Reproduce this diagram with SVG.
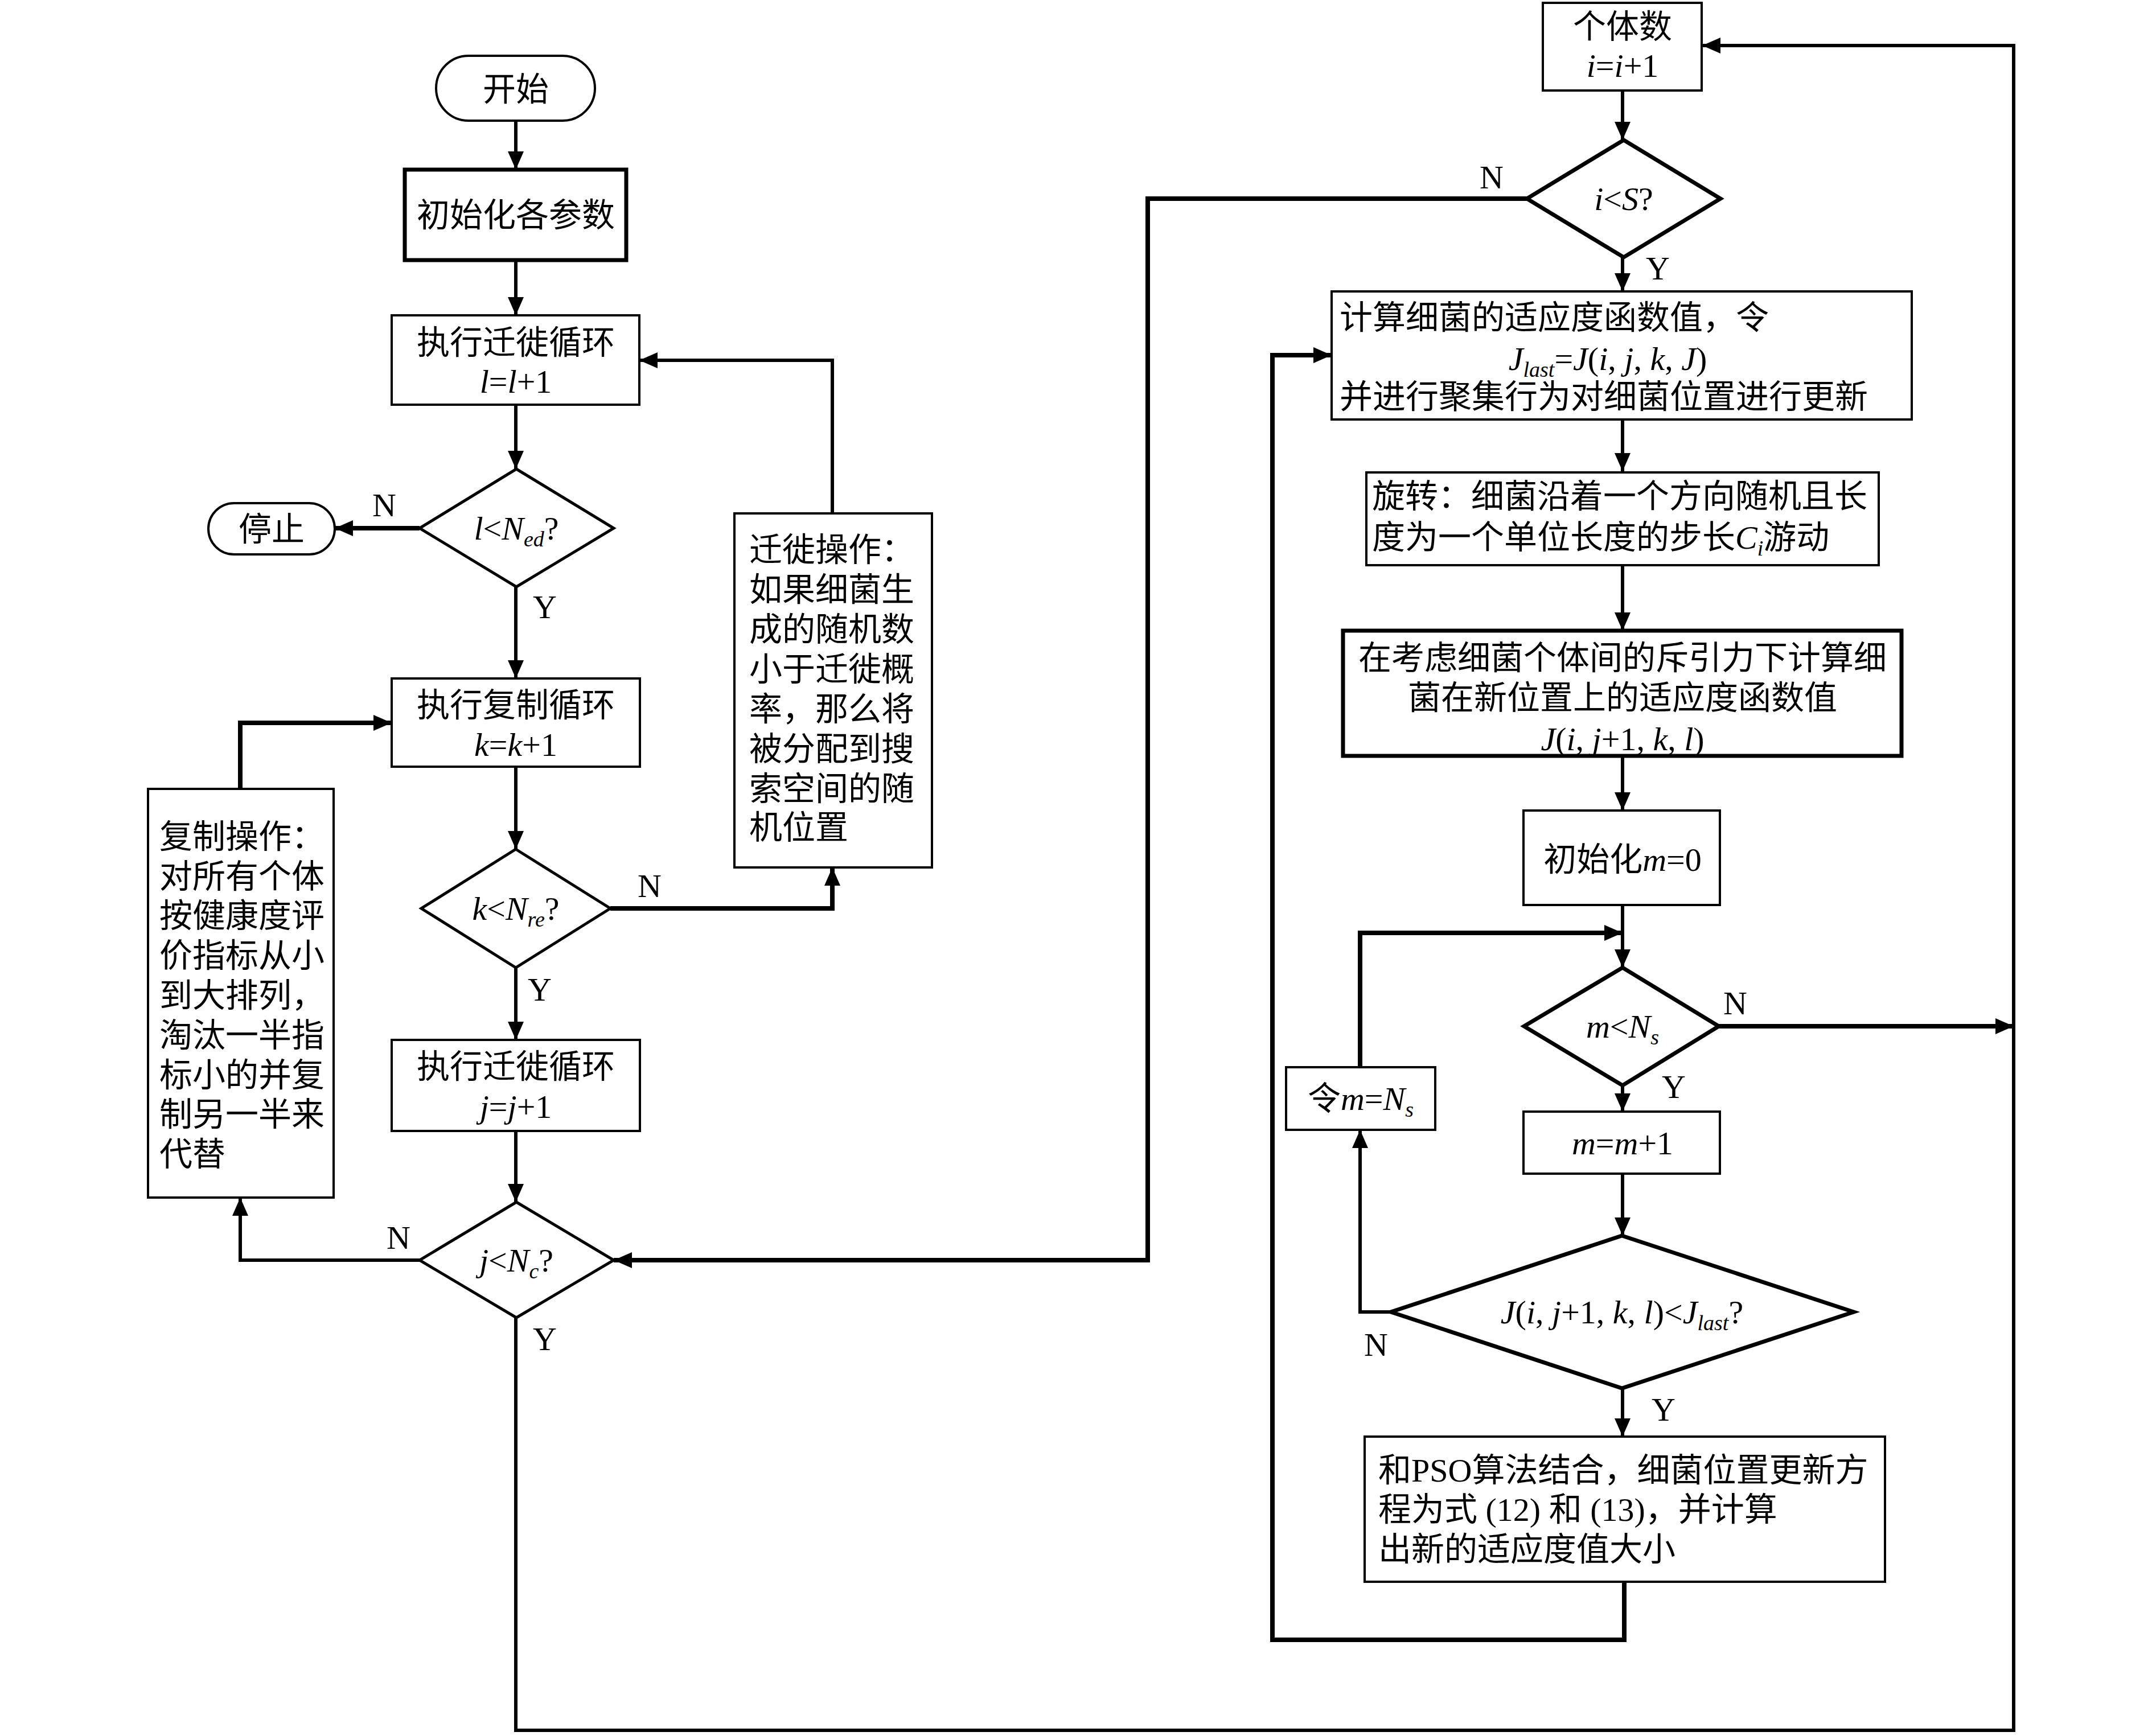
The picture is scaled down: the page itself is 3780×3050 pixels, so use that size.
<svg xmlns="http://www.w3.org/2000/svg" width="3780" height="3050" viewBox="0 0 3780 3050">
<style>
.s{fill:#fff;stroke:#000;stroke-width:4}
.sb{fill:#fff;stroke:#000;stroke-width:7}
.d{fill:#fff;stroke:#000;stroke-width:5}
.db{fill:#fff;stroke:#000;stroke-width:7}
.ln{fill:none;stroke:#000;stroke-width:6}
.lb{fill:none;stroke:#000;stroke-width:8}
text{font-family:"Liberation Serif","Noto Sans CJK SC",serif;font-size:58px;fill:#000}
.m{text-anchor:middle}
.i{font-style:italic}
.sub{font-size:38px;font-style:italic}
</style>
<defs>
<marker id="a" viewBox="0 0 32 28" refX="32" refY="14" markerWidth="32" markerHeight="28" markerUnits="userSpaceOnUse" orient="auto">
<path d="M0,0 L32,14 L0,28 z" fill="#000"/>
</marker>
</defs>
<g id="connectors">
<path class="ln" d="M906,212 V298" marker-end="url(#a)"/>
<path class="ln" d="M906,457 V554" marker-end="url(#a)"/>
<path class="ln" d="M906,711 V824" marker-end="url(#a)"/>
<path class="lb" d="M737,928 H588" marker-end="url(#a)"/>
<path class="ln" d="M906,1031 V1192" marker-end="url(#a)"/>
<path class="lb" d="M1072,1596 H1462 V1524" marker-end="url(#a)"/>
<path class="ln" d="M1462,902 V633 H1123" marker-end="url(#a)"/>
<path class="ln" d="M906,1347 V1492" marker-end="url(#a)"/>
<path class="ln" d="M906,1700 V1827" marker-end="url(#a)"/>
<path class="ln" d="M906,1987 V2112" marker-end="url(#a)"/>
<path class="ln" d="M737,2214 H422 V2104" marker-end="url(#a)"/>
<path class="lb" d="M422,1386 V1270 H688" marker-end="url(#a)"/>
<path class="ln" d="M906,2315 V3040 H3537 V80 H2990" marker-end="url(#a)"/>
<path class="ln" d="M2850,159 V246" marker-end="url(#a)"/>
<path class="lb" d="M2682,349 H2016 V2214 H1078" marker-end="url(#a)"/>
<path class="ln" d="M2850,452 V512" marker-end="url(#a)"/>
<path class="ln" d="M2850,737 V828" marker-end="url(#a)"/>
<path class="ln" d="M2850,993 V1108" marker-end="url(#a)"/>
<path class="ln" d="M2850,1328 V1424" marker-end="url(#a)"/>
<path class="ln" d="M2850,1590 V1700" marker-end="url(#a)"/>
<path class="lb" d="M2389,1875 V1639 H2850" marker-end="url(#a)"/>
<path class="lb" d="M3019,1803 H3537" marker-end="url(#a)"/>
<path class="ln" d="M2850,1907 V1953" marker-end="url(#a)"/>
<path class="ln" d="M2850,2062 V2171" marker-end="url(#a)"/>
<path class="ln" d="M2443,2305 H2389 V1985" marker-end="url(#a)"/>
<path class="ln" d="M2850,2439 V2524" marker-end="url(#a)"/>
<path class="lb" d="M2853,2779 V2881 H2235 V624 H2339" marker-end="url(#a)"/>
</g>
<g id="labels">
<text class="m" x="675" y="907">N</text>
<text class="m" x="957" y="1086">Y</text>
<text class="m" x="1141" y="1576">N</text>
<text class="m" x="948" y="1758">Y</text>
<text class="m" x="700" y="2194">N</text>
<text class="m" x="957" y="2372">Y</text>
<text class="m" x="2620" y="331">N</text>
<text class="m" x="2912" y="491">Y</text>
<text class="m" x="3048" y="1782">N</text>
<text class="m" x="2940" y="1929">Y</text>
<text class="m" x="2417" y="2382">N</text>
<text class="m" x="2922" y="2496">Y</text>
</g>
<g id="start">
<rect class="s" x="766" y="98" width="279" height="114" rx="57"/>
<text class="m" x="906" y="177">开始</text>
</g>
<g id="init">
<rect class="sb" x="711" y="298" width="389" height="159"/>
<text class="m" x="906" y="398">初始化各参数</text>
</g>
<g id="loopL">
<rect class="s" x="688" y="554" width="435" height="157"/>
<text class="m" x="906" y="622">执行迁徙循环</text>
<text class="m" x="906" y="690"><tspan class="i">l</tspan>=<tspan class="i">l</tspan>+1</text>
</g>
<g id="decL">
<path class="d" d="M907,824 L1078,928 L907,1031 L737,928 Z"/>
<text class="m" x="907" y="948"><tspan class="i">l</tspan>&lt;<tspan class="i">N</tspan><tspan class="sub" dy="12">ed</tspan><tspan dy="-12">?</tspan></text>
</g>
<g id="stop">
<rect class="s" x="366" y="884" width="222" height="90" rx="45"/>
<text class="m" x="477" y="950">停止</text>
</g>
<g id="migrate">
<rect class="s" x="1290" y="902" width="347" height="622"/>
<text x="1316" y="986">迁徙操作：</text>
<text x="1316" y="1056">如果细菌生</text>
<text x="1316" y="1126">成的随机数</text>
<text x="1316" y="1196">小于迁徙概</text>
<text x="1316" y="1266">率，那么将</text>
<text x="1316" y="1336">被分配到搜</text>
<text x="1316" y="1406">索空间的随</text>
<text x="1316" y="1474">机位置</text>
</g>
<g id="loopK">
<rect class="s" x="688" y="1192" width="436" height="155"/>
<text class="m" x="906" y="1259">执行复制循环</text>
<text class="m" x="906" y="1328"><tspan class="i">k</tspan>=<tspan class="i">k</tspan>+1</text>
</g>
<g id="decK">
<path class="d" d="M906,1492 L1072,1596 L906,1700 L740,1596 Z"/>
<text class="m" x="906" y="1616"><tspan class="i">k</tspan>&lt;<tspan class="i">N</tspan><tspan class="sub" dy="12">re</tspan><tspan dy="-12">?</tspan></text>
</g>
<g id="replicate">
<rect class="s" x="260" y="1386" width="326" height="718"/>
<text x="280" y="1490">复制操作：</text>
<text x="280" y="1560">对所有个体</text>
<text x="280" y="1629">按健康度评</text>
<text x="280" y="1699">价指标从小</text>
<text x="280" y="1769">到大排列，</text>
<text x="280" y="1839">淘汰一半指</text>
<text x="280" y="1909">标小的并复</text>
<text x="280" y="1978">制另一半来</text>
<text x="280" y="2048">代替</text>
</g>
<g id="loopJ">
<rect class="s" x="688" y="1827" width="436" height="160"/>
<text class="m" x="906" y="1894">执行迁徙循环</text>
<text class="m" x="906" y="1964"><tspan class="i">j</tspan>=<tspan class="i">j</tspan>+1</text>
</g>
<g id="decJ">
<path class="d" d="M907,2112 L1078,2214 L907,2315 L737,2214 Z"/>
<text class="m" x="907" y="2234"><tspan class="i">j</tspan>&lt;<tspan class="i">N</tspan><tspan class="sub" dy="12">c</tspan><tspan dy="-12">?</tspan></text>
</g>
<g id="loopI">
<rect class="s" x="2710" y="5" width="279" height="154"/>
<text class="m" x="2850" y="67">个体数</text>
<text class="m" x="2850" y="135"><tspan class="i">i</tspan>=<tspan class="i">i</tspan>+1</text>
</g>
<g id="decI">
<path class="db" d="M2852,246 L3022,349 L2852,452 L2682,349 Z"/>
<text class="m" x="2852" y="369"><tspan class="i">i</tspan>&lt;<tspan class="i">S</tspan>?</text>
</g>
<g id="calc">
<rect class="s" x="2339" y="512" width="1019" height="225"/>
<text x="2353" y="578">计算细菌的适应度函数值，令</text>
<text class="m" x="2824" y="650"><tspan class="i">J</tspan><tspan class="sub" dy="12">last</tspan><tspan dy="-12">=</tspan><tspan class="i">J</tspan>(<tspan class="i">i</tspan>, <tspan class="i">j</tspan>, <tspan class="i">k</tspan>, <tspan class="i">J</tspan>)</text>
<text x="2353" y="717">并进行聚集行为对细菌位置进行更新</text>
</g>
<g id="tumble">
<rect class="s" x="2400" y="830" width="900" height="163"/>
<text x="2410" y="892">旋转：细菌沿着一个方向随机且长</text>
<text x="2410" y="964">度为一个单位长度的步长<tspan class="i">C</tspan><tspan class="sub" dy="12">i</tspan><tspan dy="-12">游动</tspan></text>
</g>
<g id="fitness">
<rect class="sb" x="2359" y="1108" width="981" height="220"/>
<text class="m" x="2850" y="1176">在考虑细菌个体间的斥引力下计算细</text>
<text class="m" x="2850" y="1246">菌在新位置上的适应度函数值</text>
<text class="m" x="2850" y="1318"><tspan class="i">J</tspan>(<tspan class="i">i</tspan>, <tspan class="i">j</tspan>+1, <tspan class="i">k</tspan>, <tspan class="i">l</tspan>)</text>
</g>
<g id="initM">
<rect class="s" x="2676" y="1424" width="345" height="166"/>
<text class="m" x="2850" y="1530">初始化<tspan class="i">m</tspan>=0</text>
</g>
<g id="decM">
<path class="db" d="M2850,1700 L3019,1803 L2850,1907 L2677,1803 Z"/>
<text class="m" x="2850" y="1823"><tspan class="i">m</tspan>&lt;<tspan class="i">N</tspan><tspan class="sub" dy="12">s</tspan></text>
</g>
<g id="incM">
<rect class="s" x="2676" y="1953" width="345" height="109"/>
<text class="m" x="2850" y="2028"><tspan class="i">m</tspan>=<tspan class="i">m</tspan>+1</text>
</g>
<g id="setM">
<rect class="s" x="2259" y="1875" width="262" height="110"/>
<text class="m" x="2390" y="1950">令<tspan class="i">m</tspan>=<tspan class="i">N</tspan><tspan class="sub" dy="12">s</tspan></text>
</g>
<g id="decFit">
<path class="db" d="M2849,2171 L3256,2305 L2849,2439 L2443,2305 Z"/>
<text class="m" x="2849" y="2325"><tspan class="i">J</tspan>(<tspan class="i">i</tspan>, <tspan class="i">j</tspan>+1, <tspan class="i">k</tspan>, <tspan class="i">l</tspan>)&lt;<tspan class="i">J</tspan><tspan class="sub" dy="12">last</tspan><tspan dy="-12">?</tspan></text>
</g>
<g id="pso">
<rect class="s" x="2397" y="2524" width="914" height="255"/>
<text x="2421" y="2603">和PSO算法结合，细菌位置更新方</text>
<text x="2421" y="2672">程为式 (12) 和 (13)，并计算</text>
<text x="2421" y="2742">出新的适应度值大小</text>
</g>
</svg>
